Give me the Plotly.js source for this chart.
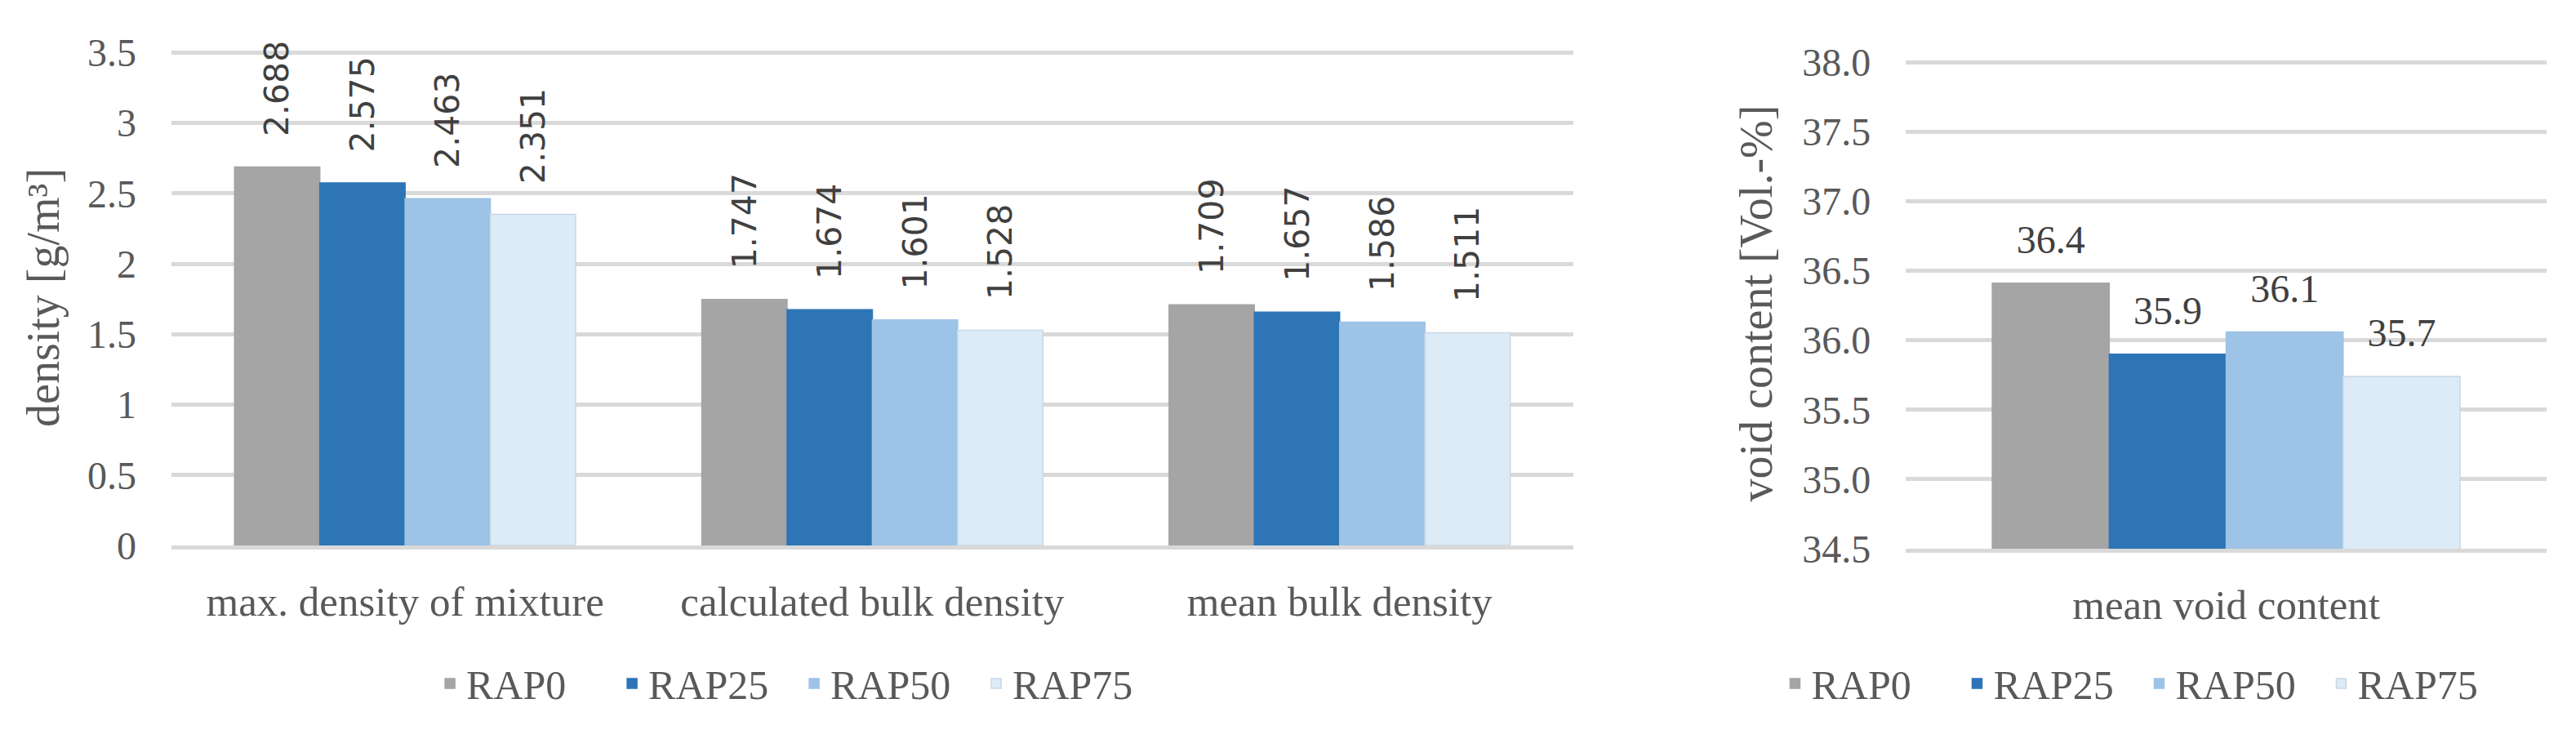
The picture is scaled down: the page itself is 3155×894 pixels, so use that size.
<!DOCTYPE html>
<html>
<head>
<meta charset="utf-8">
<script src="https://cdn.plot.ly/plotly-3.0.1.min.js"></script>
<style>
  html, body { margin: 0; padding: 0; background: #ffffff; }
  #chart { width: 3155px; height: 894px; }
</style>
</head>
<body>
<div id="chart"></div>
<script>
// ---- data ----
const categories = ['max. density of mixture', 'calculated bulk density', 'mean bulk density'];
const seriesNames = ['RAP0', 'RAP25', 'RAP50', 'RAP75'];
const densityRAP0 = [2.688, 1.747, 1.709];
const densityRAP25 = [2.575, 1.674, 1.657];
const densityRAP50 = [2.463, 1.601, 1.586];
const densityRAP75 = [2.351, 1.528, 1.511];
const voidCategory = ['mean void content'];
const voidValues = [36.41, 35.90, 36.06, 35.74];
const densityTicks = [0, 0.5, 1, 1.5, 2, 2.5, 3, 3.5];
const voidTicks = [34.5, 35.0, 35.5, 36.0, 36.5, 37.0, 37.5, 38.0];

// ---- style ----
const colors = ['#A5A5A5', '#2E75B6', '#9DC3E6', '#DDEBF7'];
const outlines = ['#A5A5A5', '#2E75B6', '#9DC3E6', '#C9D8E6'];
const textColor = '#595959';
const gridColor = '#D9D9D9';
const serif = 'Liberation Serif, Times New Roman, serif';
const sans = 'DejaVu Sans, Verdana, sans-serif';

const densitySeries = [densityRAP0, densityRAP25, densityRAP50, densityRAP75];
const traces = [];
densitySeries.forEach((vals, i) => {
  traces.push({
    type: 'bar', x: categories, y: vals, name: seriesNames[i],
    xaxis: 'x', yaxis: 'y', legend: 'legend',
    marker: { color: colors[i], line: { color: outlines[i], width: 1.5 } },
    texttemplate: '<span style="font-size:36px">\u00A0\u00A0\u00A0</span>%{y:.3f}',
    textposition: 'outside', textangle: -90, constraintext: 'none',
    textfont: { family: sans, size: 41, color: '#404040' },
    cliponaxis: false, hoverinfo: 'name+y'
  });
});
voidValues.forEach((v, i) => {
  traces.push({
    type: 'bar', x: voidCategory, y: [v], name: seriesNames[i],
    xaxis: 'x2', yaxis: 'y2', legend: 'legend2',
    marker: { color: colors[i], line: { color: outlines[i], width: 1.5 } },
    texttemplate: '<span style="font-size:48px">%{y:.1f}</span><br>\u00A0',
    textposition: 'outside', textangle: 0, constraintext: 'none',
    textfont: { family: serif, size: 22, color: '#404040' },
    cliponaxis: false, hoverinfo: 'name+y'
  });
});

const axisFont = { family: serif, size: 48, color: textColor };
const catFont = { family: serif, size: 51, color: textColor };
const titleFont = { family: serif, size: 56, color: textColor };
const legendFont = { family: serif, size: 50, color: textColor };
const layout = {
  width: 3155, height: 894,
  margin: { l: 210, r: 36, t: 61, b: 222 },
  paper_bgcolor: '#ffffff', plot_bgcolor: '#ffffff',
  font: { family: serif, color: textColor },
  barmode: 'group', bargap: 0.27, bargroupgap: 0,
  showlegend: true,
  xaxis: {
    domain: [0, 0.5902], anchor: 'y',
    showgrid: false, showline: true, linecolor: gridColor, linewidth: 5,
    ticks: '', tickfont: catFont, ticklabelstandoff: 20, fixedrange: true
  },
  yaxis: {
    domain: [0.0067, 1], anchor: 'x',
    range: [0, 3.52], tickvals: densityTicks, ticktext: densityTicks.map(String),
    showgrid: true, gridcolor: gridColor, gridwidth: 5, zeroline: false,
    showline: false, ticks: '', tickfont: axisFont, ticklabelstandoff: 42,
    title: { text: 'density [g/m³]', font: titleFont, standoff: 16 },
    fixedrange: true
  },
  xaxis2: {
    domain: [0.7302, 1], anchor: 'y2',
    showgrid: false, showline: true, linecolor: gridColor, linewidth: 5,
    ticks: '', tickfont: catFont, ticklabelstandoff: 20, fixedrange: true
  },
  yaxis2: {
    domain: [0, 0.9835], anchor: 'x2',
    range: [34.5, 38.03], tickvals: voidTicks, ticktext: voidTicks.map(v => v.toFixed(1)),
    showgrid: true, gridcolor: gridColor, gridwidth: 5, zeroline: false,
    showline: false, ticks: '', tickfont: axisFont, ticklabelstandoff: 42,
    title: { text: 'void content [Vol.-%]', font: titleFont, standoff: 18 },
    fixedrange: true
  },
  legend: {
    orientation: 'h', x: 0.2637, xanchor: 'center', y: -0.27, yanchor: 'middle',
    font: legendFont, bgcolor: 'rgba(0,0,0,0)', entrywidth: 178
  },
  legend2: {
    orientation: 'h', x: 0.830, xanchor: 'center', y: -0.27, yanchor: 'middle',
    font: legendFont, bgcolor: 'rgba(0,0,0,0)', entrywidth: 178
  }
};

Plotly.newPlot('chart', traces, layout, { displayModeBar: false, staticPlot: true });
</script>
</body>
</html>
